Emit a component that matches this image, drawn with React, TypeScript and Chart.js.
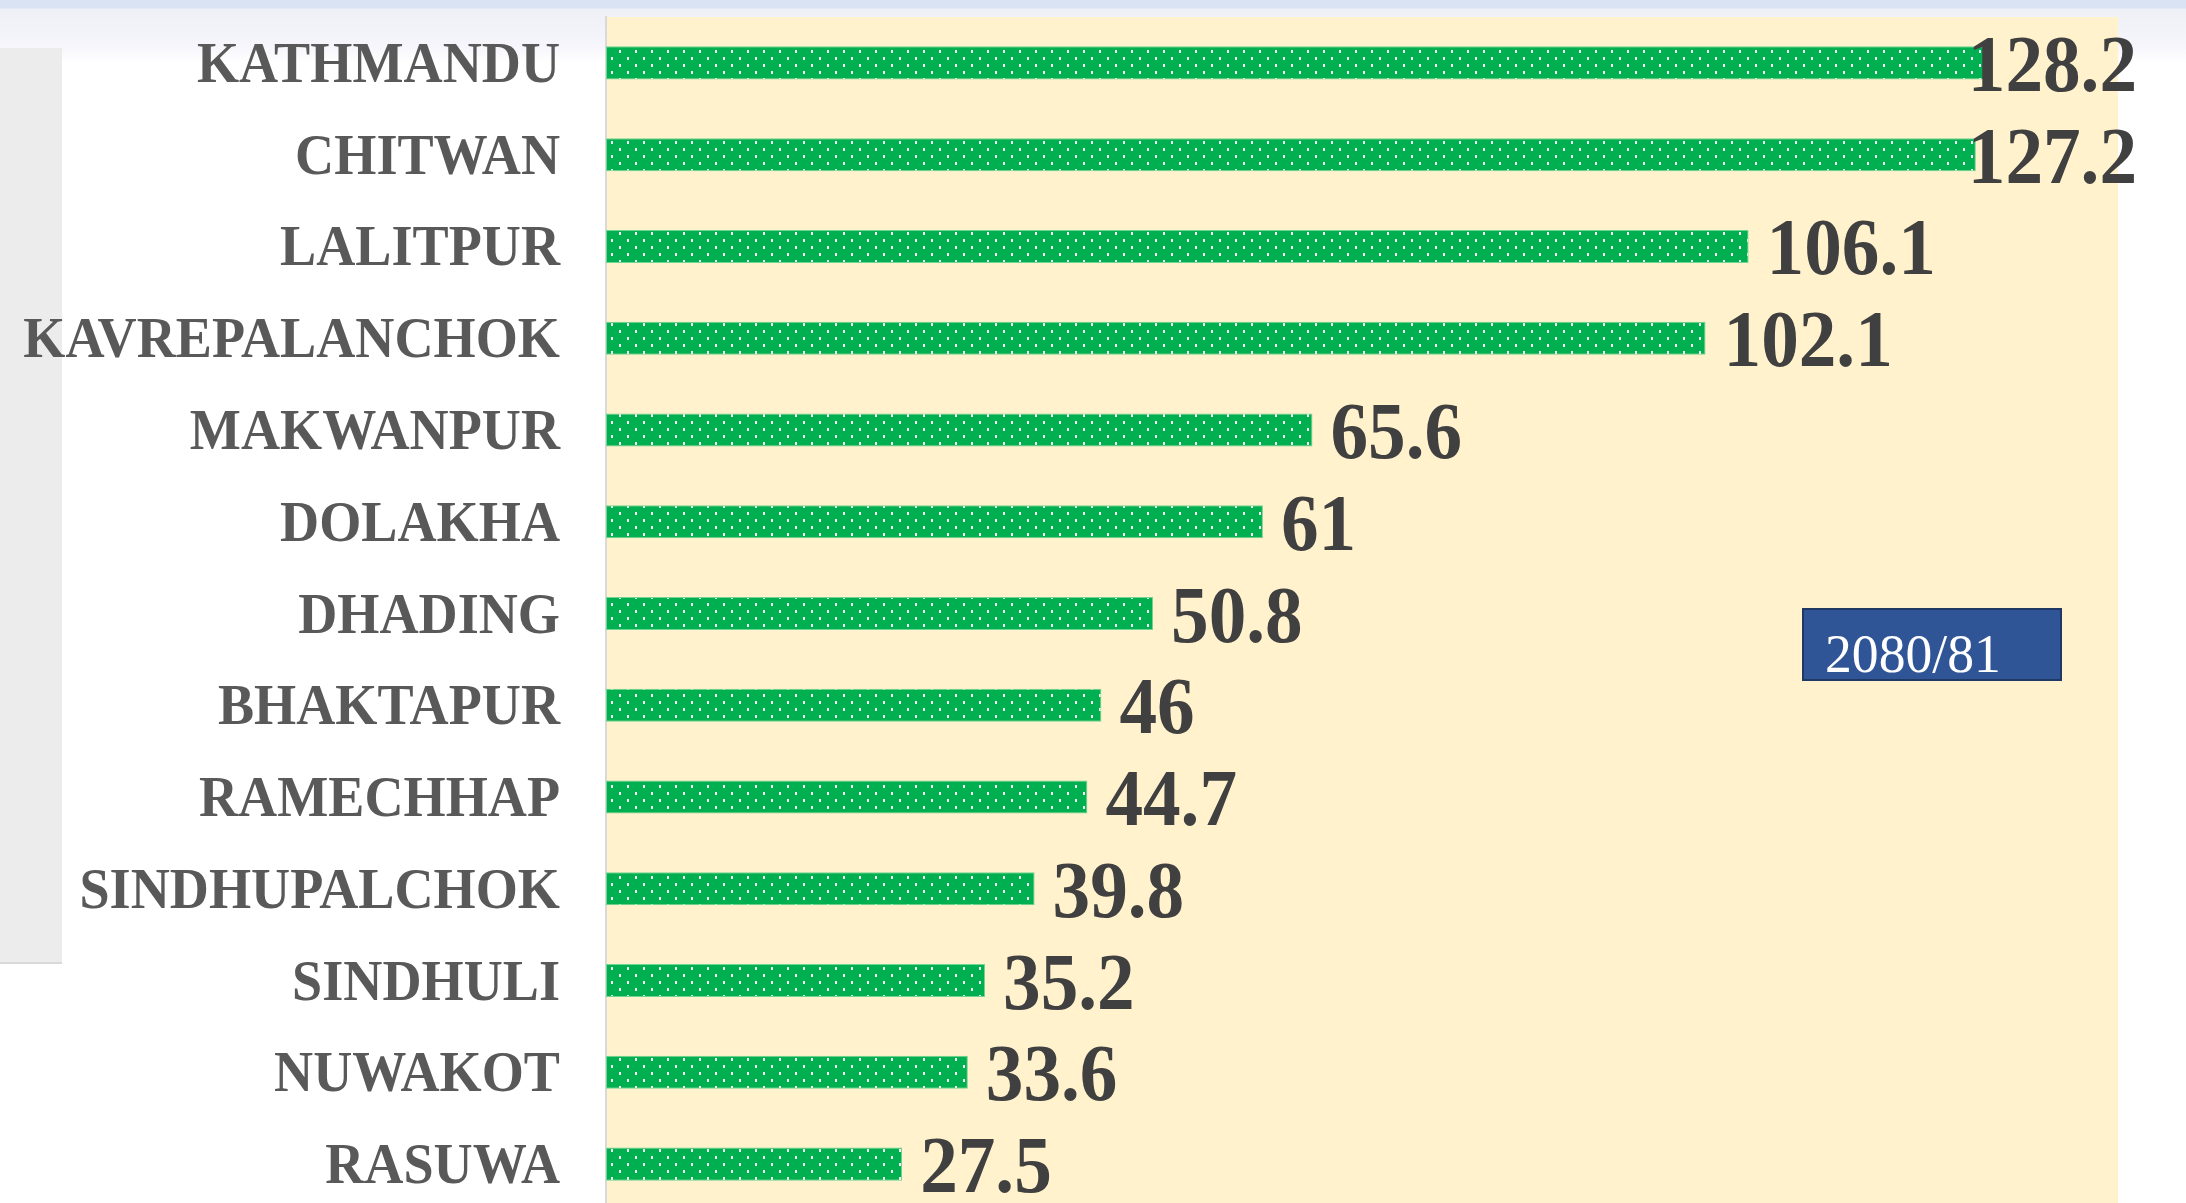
import React, { useEffect, useRef } from "react";
import { Chart, registerables } from "chart.js";

Chart.register(...registerables);

// ---- data ----
const districts: string[] = [
  "KATHMANDU",
  "CHITWAN",
  "LALITPUR",
  "KAVREPALANCHOK",
  "MAKWANPUR",
  "DOLAKHA",
  "DHADING",
  "BHAKTAPUR",
  "RAMECHHAP",
  "SINDHUPALCHOK",
  "SINDHULI",
  "NUWAKOT",
  "RASUWA",
];
const values2080_81: number[] = [128.2, 127.2, 106.1, 102.1, 65.6, 61, 50.8, 46, 44.7, 39.8, 35.2, 33.6, 27.5];
const seriesLabel = "2080/81";
const xMin = 0;
const xMax = 140.4;

const W = 2186;
const H = 1212;
const SERIF = '"Liberation Serif", "Times New Roman", serif';

export default function App() {
  const canvasRef = useRef<HTMLCanvasElement | null>(null);

  useEffect(() => {
    const canvas = canvasRef.current;
    if (!canvas) return;
    const ctx = canvas.getContext("2d");
    if (!ctx) return;

    // dotted green pattern
    const tile = document.createElement("canvas");
    tile.width = 16;
    tile.height = 14;
    const t = tile.getContext("2d")!;
    t.fillStyle = "#00b050";
    t.fillRect(0, 0, 16, 14);
    t.fillStyle = "rgba(255,255,255,0.95)";
    t.fillRect(3, 1, 2, 3);
    t.fillRect(11, 8, 2, 3);
    const pattern = ctx.createPattern(tile, "repeat") || "#00b050";

    const bgPlugin = {
      id: "plotBg",
      beforeDraw(chart: any) {
        const { ctx: c, chartArea: a } = chart;
        c.save();
        c.fillStyle = "#fff2cc";
        c.fillRect(a.left, a.top, a.right - a.left, a.bottom - a.top);
        c.restore();
      },
    };

    const labelsPlugin = {
      id: "labels",
      afterDatasetsDraw(chart: any) {
        const c = chart.ctx;
        const a = chart.chartArea;
        const yScale = chart.scales.y;
        const meta = chart.getDatasetMeta(0);
        c.save();
        // category labels
        c.fillStyle = "#595959";
        c.font = `bold 58px ${SERIF}`;
        c.textAlign = "right";
        c.textBaseline = "alphabetic";
        districts.forEach((name, i) => {
          const y = yScale.getPixelForValue(i);
          c.save();
          c.translate(a.left - 46, y + 19);
          c.scale(0.934, 1);
          c.fillText(name, 0, 0);
          c.restore();
        });
        // value labels
        c.fillStyle = "#404040";
        c.font = `bold 80px ${SERIF}`;
        c.textAlign = "left";
        const sx = 0.94;
        const maxRight = a.right + 19;
        values2080_81.forEach((v, i) => {
          const bar = meta.data[i];
          const txt = String(v);
          const w = c.measureText(txt).width * sx;
          const x0 = Math.min(bar.x + 18, maxRight - w);
          c.save();
          c.translate(x0, bar.y + 28);
          c.scale(sx, 1);
          c.fillText(txt, 0, 0);
          c.restore();
        });
        // legend box
        const lx = a.right - 315;
        const ly = 609;
        c.fillStyle = "#2f5597";
        c.fillRect(lx, ly, 258, 71);
        c.strokeStyle = "#1f3864";
        c.lineWidth = 2;
        c.strokeRect(lx, ly, 258, 71);
        c.fillStyle = "#ffffff";
        c.font = `55px ${SERIF}`;
        c.save();
        c.translate(lx + 22, ly + 63);
        c.scale(0.975, 1);
        c.fillText(chart.data.datasets[0].label, 0, 0);
        c.restore();
        c.restore();
      },
    };

    const chart = new Chart(ctx, {
      type: "bar",
      data: {
        labels: districts,
        datasets: [
          {
            label: seriesLabel,
            data: values2080_81,
            backgroundColor: pattern as any,
            borderColor: "#6fd494",
            borderWidth: 1,
            borderSkipped: false,
            barPercentage: 0.36,
            categoryPercentage: 1.0,
          },
        ],
      },
      options: {
        indexAxis: "y",
        responsive: false,
        maintainAspectRatio: false,
        animation: false,
        devicePixelRatio: 1,
        layout: { padding: { left: 606, right: 68, top: 17, bottom: 2 } },
        plugins: {
          legend: { display: false },
          tooltip: { enabled: false },
        },
        scales: {
          x: { display: false, min: xMin, max: xMax },
          y: {
            ticks: { display: false },
            grid: { display: false, drawTicks: false },
            border: { display: true, color: "#d9d9d9", width: 2 },
          },
        },
      },
      plugins: [bgPlugin, labelsPlugin],
    });

    return () => {
      chart.destroy();
    };
  }, []);

  return (
    <div
      style={{
        position: "absolute",
        left: 0,
        top: 0,
        width: 2186,
        height: 1203,
        overflow: "hidden",
        background:
          "linear-gradient(to bottom, #d9e3f3 0px, #d9e3f3 8px, #eef0f5 9px, #f6f6fc 48px, #ffffff 62px, #ffffff 100%)",
      }}
    >
      <div
        style={{
          position: "absolute",
          left: 0,
          top: 48,
          width: 62,
          height: 914,
          background: "#ececec",
          borderBottom: "2px solid #dadada",
        }}
      />
      <canvas
        ref={canvasRef}
        width={W}
        height={H}
        style={{ position: "absolute", left: 0, top: 0, width: W, height: H }}
      />
    </div>
  );
}
